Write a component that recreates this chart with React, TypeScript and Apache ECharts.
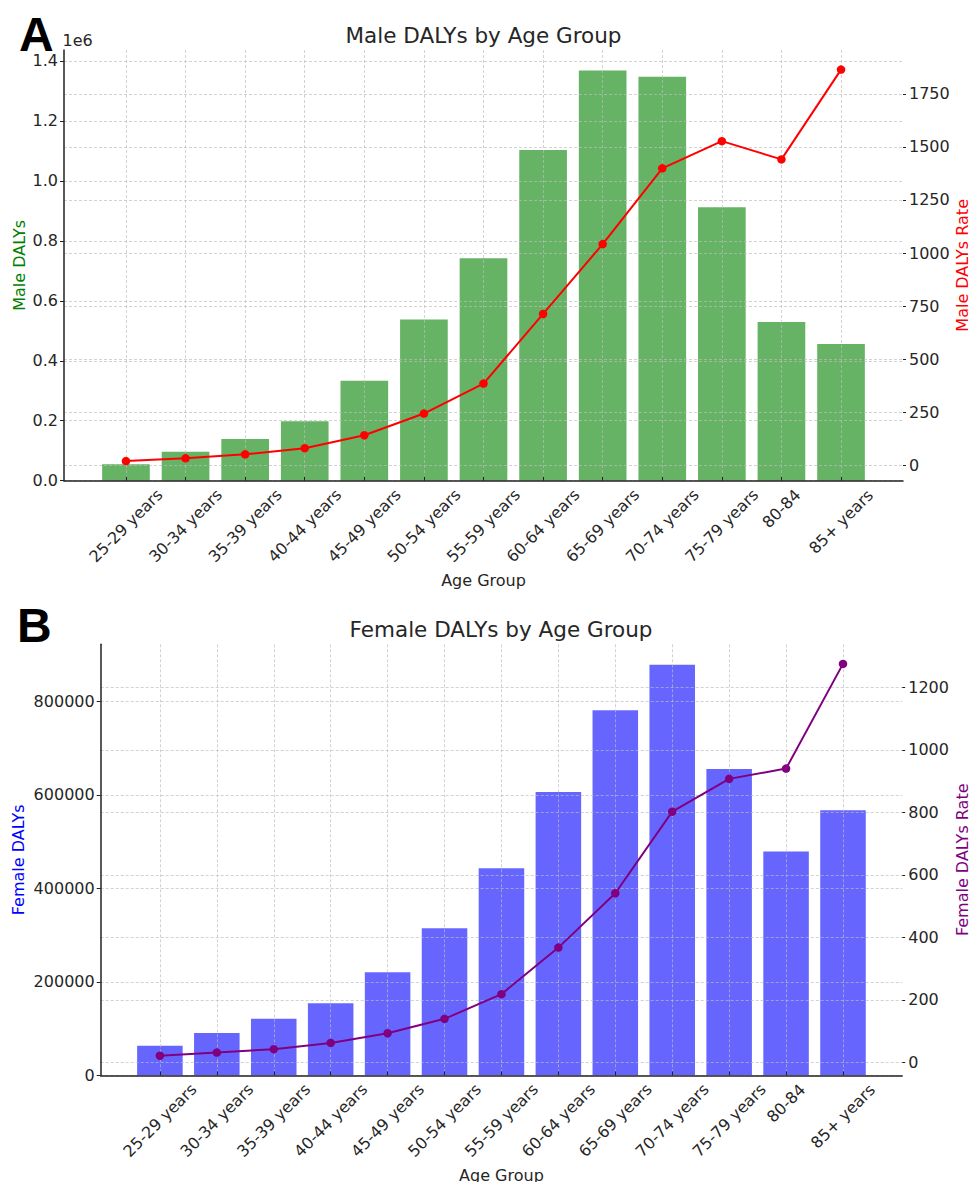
import React, { useEffect, useRef } from 'react';
import * as echarts from 'echarts';

// ---------- data ----------
const AGE_GROUPS = [
  '25-29 years', '30-34 years', '35-39 years', '40-44 years', '45-49 years',
  '50-54 years', '55-59 years', '60-64 years', '65-69 years', '70-74 years',
  '75-79 years', '80-84', '85+ years',
];
const MALE_DALYS = [54700, 96700, 139000, 198000, 333000, 538000, 742000, 1103000, 1368000, 1347000, 912000, 529000, 456000];
const MALE_RATE = [20, 33, 52, 81, 142, 244, 385, 713, 1042, 1399, 1527, 1441, 1864];
const FEMALE_DALYS = [63300, 90400, 121000, 153900, 220700, 314800, 443000, 606000, 781200, 878200, 655100, 478600, 566900];
const FEMALE_RATE = [21, 31, 42, 62, 93, 139, 218, 367, 541, 802, 907, 940, 1275];

const MALE_LEFT_TICKS = [0, 200000, 400000, 600000, 800000, 1000000, 1200000, 1400000];
const MALE_RIGHT_TICKS = [0, 250, 500, 750, 1000, 1250, 1500, 1750];
const FEMALE_LEFT_TICKS = [0, 200000, 400000, 600000, 800000];
const FEMALE_RIGHT_TICKS = [0, 200, 400, 600, 800, 1000, 1200];

// ---------- styling ----------
const FONT = 'DejaVu Sans';
const TEXT = '#262626';
const AXIS = '#222222';
const GRID_LINE = {
  show: true,
  lineStyle: { color: '#bcbcbc', width: 0.8, type: [3, 2] as any, opacity: 0.85 },
};

// matplotlib-like autoscale helpers
const barRange = (v: number[]) => [0, Math.max(...v) * 1.05];
const lineRange = (v: number[]) => {
  const lo = Math.min(...v), hi = Math.max(...v), d = hi - lo;
  return [lo - 0.05 * d, hi + 0.05 * d];
};
const N = AGE_GROUPS.length;
const X_MIN = -0.4 - 0.05 * (N - 1 + 0.8);
const X_MAX = N - 1 + 0.4 + 0.05 * (N - 1 + 0.8);

const GRIDS = [
  { left: 64, top: 50, width: 839, height: 430.7 },
  { left: 100.7, top: 644.3, width: 801.5, height: 431 },
];

export default function App() {
  const ref = useRef<HTMLDivElement>(null);

  useEffect(() => {
    if (!ref.current) return;
    const chart = echarts.init(ref.current, null, { renderer: 'svg' });

    const canvas = document.createElement('canvas');
    const ctx = canvas.getContext('2d')!;
    ctx.font = `16px "${FONT}"`;
    const idx = AGE_GROUPS.map((_, i) => i);

    // group labels by margin so the rotated label box is centred under its tick
    const groups: Record<number, number[]> = {};
    AGE_GROUPS.forEach((t, i) => {
      const w = ctx.measureText(t).width;
      const m = Math.round(11.5 + w * 0.3536);
      (groups[m] = groups[m] || []).push(i);
    });

    const mainX = (gridIndex: number) => ({
      type: 'value',
      gridIndex,
      position: 'bottom',
      min: X_MIN,
      max: X_MAX,
      z: 3,
      axisLine: { show: true, onZero: false, lineStyle: { color: AXIS, width: 1.5 } },
      axisTick: { show: true, inside: true, length: 4, customValues: idx, lineStyle: { color: AXIS, width: 1 } },
      axisLabel: { show: false, customValues: idx },
      splitLine: GRID_LINE,
      name: 'Age Group',
      nameLocation: 'middle',
      nameGap: 92,
      nameMoveOverlap: false,
      nameTextStyle: { fontFamily: FONT, fontSize: 16, color: TEXT },
    });

    const labelAxes: any[] = [];
    [0, 1].forEach((g) => {
      Object.keys(groups).forEach((k) => {
        labelAxes.push({
          type: 'value',
          gridIndex: g,
          position: 'bottom',
          min: X_MIN,
          max: X_MAX,
          axisLine: { show: false, onZero: false },
          axisTick: { show: false },
          splitLine: { show: false },
          axisLabel: {
            show: true,
            customValues: groups[+k],
            rotate: 45,
            align: 'center',
            verticalAlign: 'middle',
            margin: +k,
            fontFamily: FONT,
            fontSize: 16,
            color: TEXT,
            formatter: (v: number) => AGE_GROUPS[Math.round(v)] ?? '',
          },
        });
      });
    });

    const yAxis = (
      gridIndex: number,
      position: 'left' | 'right',
      range: number[],
      ticks: number[],
      name: string,
      color: string,
      nameGap: number,
      fmt?: (v: number) => string,
    ) => ({
      type: 'value',
      gridIndex,
      position,
      min: range[0],
      max: range[1],
      z: 3,
      axisLine: { show: position === 'left', onZero: false, lineStyle: { color: AXIS, width: 1.5 } },
      axisTick: {
        show: true,
        inside: false,
        length: position === 'left' ? 4 : 3,
        customValues: ticks,
        lineStyle: { color: AXIS, width: 1 },
      },
      axisLabel: {
        show: true,
        customValues: ticks,
        margin: position === 'left' ? 6 : 6,
        fontFamily: FONT,
        fontSize: 16,
        color: TEXT,
        formatter: fmt ?? ((v: number) => String(v)),
      },
      splitLine: GRID_LINE,
      name,
      nameLocation: 'middle',
      nameGap,
      nameMoveOverlap: false,
      nameTextStyle: { fontFamily: FONT, fontSize: 16, color },
    });

    const option: any = {
      animation: false,
      backgroundColor: '#ffffff',
      textStyle: { fontFamily: FONT },
      grid: GRIDS.map((g) => ({ ...g, outerBoundsMode: 'none', containLabel: false })),
      xAxis: [mainX(0), mainX(1), ...labelAxes],
      yAxis: [
        yAxis(0, 'left', barRange(MALE_DALYS), MALE_LEFT_TICKS, 'Male DALYs', '#008000', 37, (v) => (v / 1e6).toFixed(1)),
        yAxis(0, 'right', lineRange(MALE_RATE), MALE_RIGHT_TICKS, 'Male DALYs Rate', '#ff0000', 51),
        yAxis(1, 'left', barRange(FEMALE_DALYS), FEMALE_LEFT_TICKS, 'Female DALYs', '#0000ff', 74),
        yAxis(1, 'right', lineRange(FEMALE_RATE), FEMALE_RIGHT_TICKS, 'Female DALYs Rate', '#800080', 52),
      ],
      series: [
        {
          type: 'bar',
          name: 'Male DALYs',
          xAxisIndex: 0,
          yAxisIndex: 0,
          barWidth: (0.8 * GRIDS[0].width) / (X_MAX - X_MIN),
          itemStyle: { color: 'rgba(0,128,0,0.6)' },
          z: 2,
          data: MALE_DALYS.map((v, i) => [i, v]),
        },
        {
          type: 'line',
          name: 'Male DALYs Rate',
          xAxisIndex: 0,
          yAxisIndex: 1,
          symbol: 'circle',
          symbolSize: 8.5,
          lineStyle: { color: '#ff0000', width: 2 },
          itemStyle: { color: '#ff0000' },
          z: 5,
          data: MALE_RATE.map((v, i) => [i, v]),
        },
        {
          type: 'bar',
          name: 'Female DALYs',
          xAxisIndex: 1,
          yAxisIndex: 2,
          barWidth: (0.8 * GRIDS[1].width) / (X_MAX - X_MIN),
          itemStyle: { color: 'rgba(0,0,255,0.6)' },
          z: 2,
          data: FEMALE_DALYS.map((v, i) => [i, v]),
        },
        {
          type: 'line',
          name: 'Female DALYs Rate',
          xAxisIndex: 1,
          yAxisIndex: 3,
          symbol: 'circle',
          symbolSize: 8.5,
          lineStyle: { color: '#800080', width: 2 },
          itemStyle: { color: '#800080' },
          z: 5,
          data: FEMALE_RATE.map((v, i) => [i, v]),
        },
      ],
      graphic: [
        {
          type: 'text', x: 19, y: 34.8,
          style: { text: 'A', font: 'bold 48px "Liberation Sans"', fill: '#000', align: 'left', verticalAlign: 'middle' },
        },
        {
          type: 'text', x: 17, y: 625.6,
          style: { text: 'B', font: 'bold 48px "Liberation Sans"', fill: '#000', align: 'left', verticalAlign: 'middle' },
        },
        {
          type: 'text', x: 483.5, y: 35.4,
          style: { text: 'Male DALYs by Age Group', font: `21.5px "${FONT}"`, fill: TEXT, align: 'center', verticalAlign: 'middle' },
        },
        {
          type: 'text', x: 501, y: 629.4,
          style: { text: 'Female DALYs by Age Group', font: `21.5px "${FONT}"`, fill: TEXT, align: 'center', verticalAlign: 'middle' },
        },
        {
          type: 'text', x: 62.5, y: 40.6,
          style: { text: '1e6', font: `16px "${FONT}"`, fill: TEXT, align: 'left', verticalAlign: 'middle' },
        },
      ],
    };

    chart.setOption(option);
    return () => chart.dispose();
  }, []);

  return (
    <div
      ref={ref}
      style={{ position: 'absolute', left: 0, top: 0, width: 970, height: 1182, background: '#fff' }}
    />
  );
}
